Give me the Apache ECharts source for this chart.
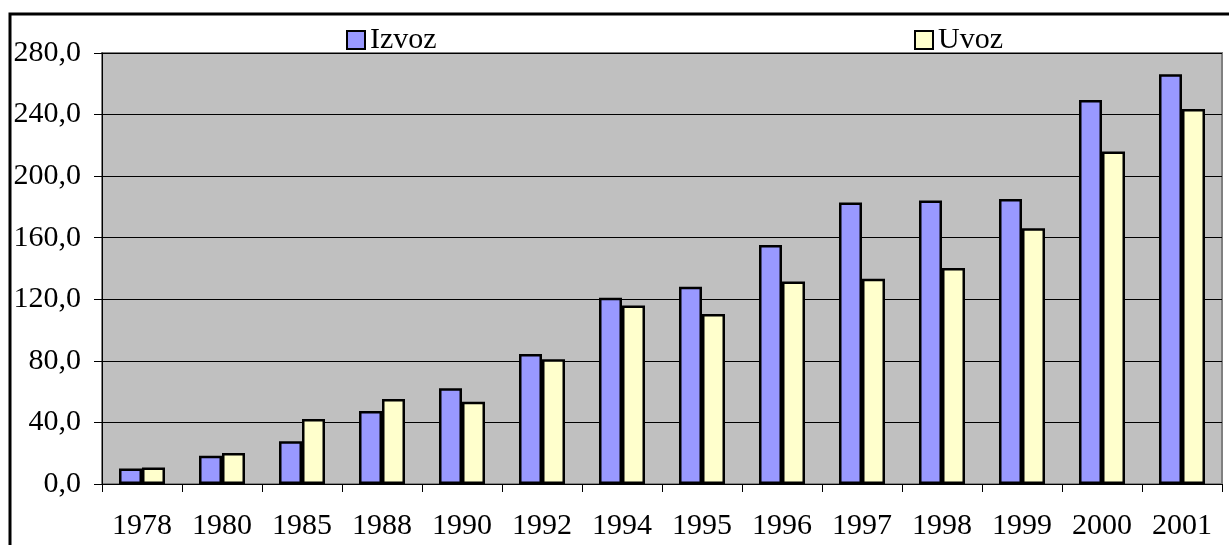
<!DOCTYPE html>
<html>
<head>
<meta charset="utf-8">
<script src="https://cdn.jsdelivr.net/npm/echarts@6/dist/echarts.min.js"></script>
<style>
  html, body { margin: 0; padding: 0; background: #fff; }
  #chart { width: 1229px; height: 545px; }
</style>
</head>
<body>
<div id="chart"></div>
<script>
const years = ['1978', '1980', '1985', '1988', '1990', '1992', '1994', '1995', '1996', '1997', '1998', '1999', '2000', '2001'];
const izvoz = [10, 18.4, 27.7, 47.4, 62.2, 84.5, 121, 128.2, 155.3, 182.8, 184.1, 185.2, 249.5, 266.2];
const uvoz = [10.8, 20.1, 42.2, 55.2, 53.5, 81, 115.9, 110.5, 131.5, 133.4, 140.3, 166.1, 216, 243.7];
const yTicks = [0, 40, 80, 120, 160, 200, 240, 280];

const chart = echarts.init(document.getElementById('chart'));
const font = '"Liberation Serif", "Times New Roman", serif';

const legendStyle = {
  top: 20,
  icon: 'rect',
  itemWidth: 18,
  itemHeight: 18,
  itemGap: 6,
  itemStyle: { borderColor: '#000', borderWidth: 2 },
  textStyle: { fontFamily: font, fontSize: 30, color: '#000', padding: [0, 0, 0, 0] }
};

chart.setOption({
  animation: false,
  graphic: [
    // outer chart frame (runs off the right and bottom edges)
    {
      type: 'rect',
      shape: { x: 10, y: 14, width: 1240, height: 560 },
      style: { fill: 'none', stroke: '#000', lineWidth: 3 },
      z: 0
    }
  ],
  legend: [
    Object.assign({}, legendStyle, { left: 341, data: ['Izvoz'] }),
    Object.assign({}, legendStyle, { left: 909, data: ['Uvoz'] })
  ],
  grid: {
    left: 102,
    right: 7,
    top: 53,
    bottom: 61,
    show: true,
    backgroundColor: '#C0C0C0',
    borderColor: '#808080',
    borderWidth: 2
  },
  xAxis: {
    type: 'category',
    data: years,
    axisLine: { lineStyle: { color: '#000', width: 1 } },
    axisTick: { show: true, length: 8, lineStyle: { color: '#000' } },
    axisLabel: { fontFamily: font, fontSize: 30, color: '#000', margin: 27 }
  },
  yAxis: {
    type: 'value',
    min: 0,
    max: 280,
    interval: 40,
    axisLine: { show: true, lineStyle: { color: '#000', width: 1 } },
    axisTick: { show: true, length: 8, lineStyle: { color: '#000' } },
    axisLabel: {
      fontFamily: font,
      fontSize: 30,
      color: '#000',
      margin: 21,
      formatter: v => yTicks.includes(v) ? v.toFixed(1).replace('.', ',') : ''
    },
    splitLine: { lineStyle: { color: '#000', width: 1 } }
  },
  series: [
    {
      name: 'Izvoz',
      type: 'bar',
      data: izvoz,
      barWidth: 23,
      barGap: '0%',
      itemStyle: { color: '#9999FF', borderColor: '#000', borderWidth: 2.5 }
    },
    {
      name: 'Uvoz',
      type: 'bar',
      data: uvoz,
      barWidth: 23,
      itemStyle: { color: '#FFFFCC', borderColor: '#000', borderWidth: 2.5 }
    }
  ]
});
</script>
</body>
</html>
